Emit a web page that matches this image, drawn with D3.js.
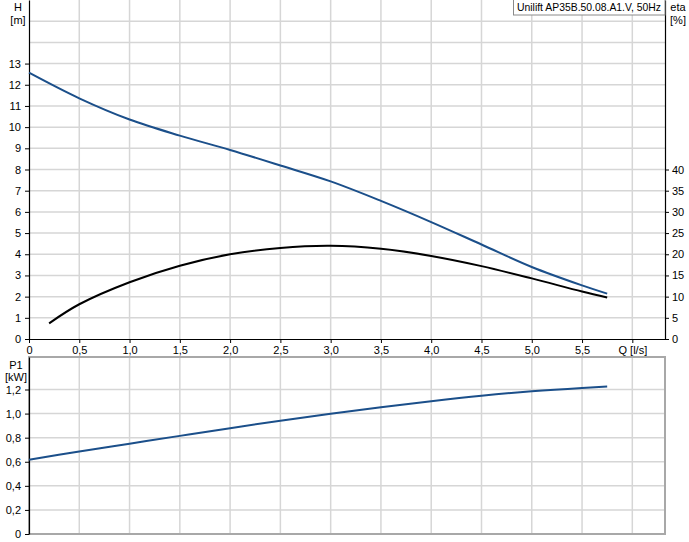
<!DOCTYPE html>
<html>
<head>
<meta charset="utf-8">
<script src="https://cdn.jsdelivr.net/npm/d3@7"></script>
<style>
  body { margin: 0; background: #fff; }
  svg { display: block; font-family: "Liberation Sans", Arial, sans-serif; font-size: 11px; }
</style>
</head>
<body>
<div id="chart"></div>
<script>
// ---------------- data ----------------
const flowQ = [0, 0.5, 1.0, 1.5, 2.0, 2.5, 3.0, 3.5, 4.0, 4.5, 5.0, 5.5, 5.75];
const headH = [12.57, 11.36, 10.36, 9.60, 8.92, 8.19, 7.44, 6.52, 5.52, 4.46, 3.40, 2.53, 2.14];
const powerP1 = [0.617, 0.685, 0.750, 0.815, 0.879, 0.941, 0.999, 1.053, 1.103, 1.148, 1.185, 1.213, 1.224];
const etaQ = [0.2, 0.5, 1.0, 1.5, 2.0, 2.5, 3.0, 3.5, 4.0, 4.5, 5.0, 5.5, 5.75];
const etaPct = [3.7, 8.2, 13.4, 17.3, 20.0, 21.5, 22.0, 21.3, 19.6, 17.2, 14.3, 11.2, 9.8];

const qTicks = [0, 0.5, 1.0, 1.5, 2.0, 2.5, 3.0, 3.5, 4.0, 4.5, 5.0, 5.5, 6.0];
const hTicks = [0, 1, 2, 3, 4, 5, 6, 7, 8, 9, 10, 11, 12, 13];
const hGrid = [1, 2, 3, 4, 5, 6, 7, 8, 9, 10, 11, 12, 13, 14, 15];
const etaTicks = [0, 5, 10, 15, 20, 25, 30, 35, 40];
const pTicks = [0, 0.2, 0.4, 0.6, 0.8, 1.0, 1.2];
const legendText = "Unilift AP35B.50.08.A1.V, 50Hz";

// ---------------- layout ----------------
const width = 689, height = 542;
const left = 29, right = 665;
const topY0 = 0, topY1 = 339;      // H / eta panel
const botY0 = 357, botY1 = 534;    // P1 panel
const gridColor = "#d6d6d6";
const blue = "#1b4f8a";

const svg = d3.select("#chart").append("svg")
    .attr("width", width)
    .attr("height", height);

const x = d3.scaleLinear().domain([0, 6.325]).range([left, right]);
const yH = d3.scaleLinear().domain([0, 16]).range([topY1, topY0]);
const yEta = d3.scaleLinear().domain([0, 80]).range([topY1, topY0]);
const yP = d3.scaleLinear().domain([0, 1.47]).range([botY1, botY0]);

const fmt = d => d === 0 ? "0" : d3.format(".1f")(d).replace(".", ",");

// ---------------- grids ----------------
const gTop = svg.append("g");
gTop.selectAll(".vg").data(qTicks.slice(1)).enter().append("line")
    .attr("x1", d => x(d)).attr("x2", d => x(d))
    .attr("y1", topY0).attr("y2", topY1)
    .attr("stroke", gridColor).attr("stroke-width", 1.5);
gTop.selectAll(".hg").data(hGrid).enter().append("line")
    .attr("x1", left).attr("x2", right)
    .attr("y1", d => yH(d)).attr("y2", d => yH(d))
    .attr("stroke", gridColor).attr("stroke-width", 1.5);

const gBot = svg.append("g");
gBot.selectAll(".vg").data(qTicks.slice(1)).enter().append("line")
    .attr("x1", d => x(d)).attr("x2", d => x(d))
    .attr("y1", botY0).attr("y2", botY1)
    .attr("stroke", gridColor).attr("stroke-width", 1.5);
gBot.selectAll(".hg").data(pTicks.slice(1)).enter().append("line")
    .attr("x1", left).attr("x2", right)
    .attr("y1", d => yP(d)).attr("y2", d => yP(d))
    .attr("stroke", gridColor).attr("stroke-width", 1.5);

// bottom panel frame
svg.append("rect")
    .attr("x", left).attr("y", botY0)
    .attr("width", right - left).attr("height", botY1 - botY0)
    .attr("fill", "none").attr("stroke", "#a8a8a8").attr("stroke-width", 2);

// ---------------- axes ----------------
function styleAxis(g) {
  g.select(".domain").attr("stroke", "#000").attr("stroke-width", 1.2);
  g.selectAll(".tick line").attr("stroke", "#000");
  g.selectAll(".tick text").attr("fill", "#000")
    .style("font-family", "'Liberation Sans', Arial, sans-serif").style("font-size", "11px");
}

svg.append("g")
    .attr("transform", `translate(0,${topY1})`)
    .call(d3.axisBottom(x).tickValues(qTicks).tickSize(4).tickSizeOuter(0).tickPadding(3)
        .tickFormat(d => d === 6 ? "Q [l/s]" : fmt(d)))
    .call(styleAxis);

svg.append("g")
    .attr("transform", `translate(${left},0)`)
    .call(d3.axisLeft(yH).tickValues(hTicks).tickSize(4).tickSizeOuter(0).tickPadding(4)
        .tickFormat(d3.format("d")))
    .call(styleAxis);

svg.append("g")
    .attr("transform", `translate(${right},0)`)
    .call(d3.axisRight(yEta).tickValues(etaTicks).tickSize(4).tickSizeOuter(0).tickPadding(3)
        .tickFormat(d3.format("d")))
    .call(styleAxis);

svg.append("g")
    .attr("transform", `translate(${left},0)`)
    .call(d3.axisLeft(yP).tickValues(pTicks).tickSize(4).tickSizeOuter(0).tickPadding(4)
        .tickFormat(fmt))
    .call(styleAxis);

// unit labels
const units = [
  { t: "H", x: 18, y: 11 }, { t: "[m]", x: 18, y: 24 },
  { t: "eta", x: 678, y: 11 }, { t: "[%]", x: 678, y: 24 },
  { t: "P1", x: 16, y: 369 }, { t: "[kW]", x: 16, y: 381 }
];
svg.selectAll(".unit").data(units).enter().append("text")
    .attr("x", d => d.x).attr("y", d => d.y)
    .attr("text-anchor", "middle")
    .attr("fill", "#000")
    .text(d => d.t);

// ---------------- curves ----------------
const line = yScale => d3.line()
    .x(d => x(d[0]))
    .y(d => yScale(d[1]))
    .curve(d3.curveCatmullRom.alpha(0.5));

svg.append("path")
    .datum(d3.zip(flowQ, headH))
    .attr("d", line(yH))
    .attr("fill", "none").attr("stroke", blue).attr("stroke-width", 2);

svg.append("path")
    .datum(d3.zip(etaQ, etaPct))
    .attr("d", line(yEta))
    .attr("fill", "none").attr("stroke", "#000").attr("stroke-width", 2);

svg.append("path")
    .datum(d3.zip(flowQ, powerP1))
    .attr("d", line(yP))
    .attr("fill", "none").attr("stroke", blue).attr("stroke-width", 2);

// ---------------- legend box ----------------
const lg = svg.append("g");
lg.append("rect")
    .attr("x", 513.5).attr("y", -1)
    .attr("width", right - 513.5).attr("height", 16)
    .attr("fill", "#fff").attr("stroke", "#8a8a8a");
lg.append("text")
    .attr("x", 517).attr("y", 11)
    .attr("fill", "#000")
    .attr("textLength", 144)
    .attr("lengthAdjust", "spacingAndGlyphs")
    .text(legendText);
</script>
</body>
</html>
